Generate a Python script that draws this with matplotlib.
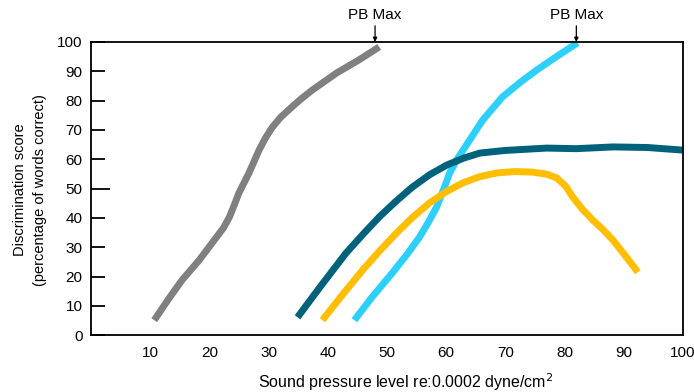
import matplotlib
matplotlib.use("Agg")
import matplotlib.pyplot as plt

plt.rcParams['font.family'] = ['Liberation Sans', 'DejaVu Sans']

# curves (level in dB, score in %)
gray_x = [10.7, 13, 15.4, 18.3, 21.2, 22.4, 23.4, 24.2, 25, 26.7, 28.4, 29.5, 30.6, 32, 33.5, 35.4, 37.4, 41.5, 45.3, 48.7]
gray_y = [5.1, 12, 18.8, 25.6, 33.4, 36.6, 40.3, 44.3, 48.5, 55.3, 63.1, 67.3, 70.8, 74.2, 77, 80.4, 83.6, 89.4, 93.9, 98.3]

cyan_x = [44.5, 47.5, 50.9, 53.3, 55.5, 57, 58.4, 59.5, 60.6, 61.8, 63, 64, 66.2, 69.5, 72.5, 75.3, 78.8, 82.2]
cyan_y = [5.1, 13, 21.2, 27.3, 33.4, 38.5, 43.7, 49.3, 55.3, 59.8, 63.5, 66.6, 73.4, 81.2, 86.2, 90.4, 95.2, 99.7]

teal_x = [34.9, 39, 43.1, 46, 48.7, 51.5, 54.3, 57.2, 60.1, 63, 65.7, 70, 77, 82, 88.2, 94, 100]
teal_y = [6.1, 17.2, 28, 34.5, 40.3, 45.6, 50.5, 54.7, 58, 60.4, 62.1, 63, 63.8, 63.6, 64.2, 64, 63.1]

gold_x = [39.1, 42.5, 45.9, 48.8, 51.6, 54.4, 57.2, 60, 62.8, 65.6, 68.5, 71.5, 74.6, 77, 78.7, 80.2, 81.4, 83, 84.8, 86.5, 88.2, 90.3, 92.4]
gold_y = [5.1, 13.8, 22.2, 28.8, 34.8, 40.3, 45.1, 48.9, 51.9, 54, 55.3, 55.8, 55.6, 54.9, 53.6, 50.8, 47.1, 43, 39.2, 36, 32.4, 27, 21.5]

pb_max_x = [48, 82]

y_ticks = list(range(0, 101, 10))
x_ticks = list(range(10, 101, 10))

fig = plt.figure(figsize=(6.94, 3.92), dpi=100)
ax = fig.add_axes([0.131, 0.145, 0.853, 0.748])

style = dict(lw=5.0, solid_capstyle='butt', solid_joinstyle='round')
ax.plot(gray_x, gray_y, color='#808080', **style)
ax.plot(cyan_x, cyan_y, color='#2dd0fb', **style)
ax.plot(teal_x, teal_y, color='#00627a', **style)
ax.plot(gold_x, gold_y, color='#ffbf00', **style)

ax.set_xlim(0, 100)
ax.set_ylim(0, 100)
ax.set_yticks(y_ticks)
ax.set_xticks(x_ticks)
ax.set_xticks([70], minor=True)
ax.tick_params(axis='y', direction='in', length=10, width=1.3, labelsize=11, pad=6)
ax.tick_params(axis='x', length=0, labelsize=11, pad=8)
ax.tick_params(axis='x', which='minor', direction='in', length=3, width=1.2)
ax.yaxis.get_major_ticks()[5].tick1line.set_markersize(14)
for spine in ax.spines.values():
    spine.set_linewidth(1.3)

for px in pb_max_x:
    ax.text(px, 106.8, 'PB Max', ha='center', va='bottom', fontsize=11, clip_on=False)
    ax.annotate('', xy=(px, 100), xytext=(px, 105.5), annotation_clip=False,
                arrowprops=dict(arrowstyle='-|>', color='black', lw=0.9,
                                mutation_scale=6, shrinkA=0, shrinkB=0))

fig.text(0.029, 0.515, 'Discrimination score', rotation=90, ha='center', va='center', fontsize=10.5)
fig.text(0.058, 0.515, '(percentage of words correct)', rotation=90, ha='center', va='center', fontsize=10.5)
fig.text(0.584, 0.026, 'Sound pressure level re:0.0002 dyne/cm$^2$', ha='center', va='center', fontsize=11.5)

fig.savefig('out.png', dpi=100)
